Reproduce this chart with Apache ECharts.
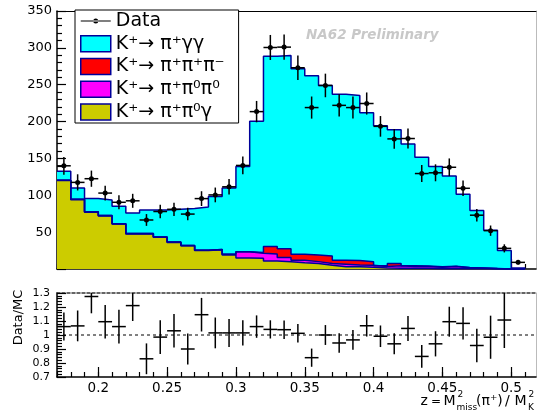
<!DOCTYPE html>
<html>
<head>
<meta charset="utf-8">
<script src="https://cdn.jsdelivr.net/npm/echarts@6/dist/echarts.min.js"></script>
<style>
  html, body { margin: 0; padding: 0; background: #fff; }
  #chart { width: 538px; height: 412px; }
</style>
</head>
<body>
<div id="chart"></div>
<script>
// bins of z = M2miss / M2K, width 0.01
const binWidth = 0.01
const binLow = [0.17, 0.18, 0.19, 0.2, 0.21, 0.22, 0.23, 0.24, 0.25, 0.26, 0.27, 0.28, 0.29, 0.3, 0.31, 0.32, 0.33,
  0.34, 0.35, 0.36, 0.37, 0.38, 0.39, 0.4, 0.41, 0.42, 0.43, 0.44, 0.45, 0.46, 0.47, 0.48, 0.49, 0.5]
const xTickLabels = [0.2, 0.25, 0.3, 0.35, 0.4, 0.45, 0.5]

// MC components (events per bin)
const pipigg = [12, 15.5, 18, 21, 23.5, 28, 32, 36.5, 44.5, 50, 58.5, 72, 90, 115.5, 178, 258, 262, 251.5, 243, 231.5,
  225, 224, 202, 190, 181.5, 165, 147.5, 136, 122.5, 99.5, 78, 52, 25, 1.5]
const pipipi = [0, 0, 0, 0, 0, 0, 0, 0, 0, 0, 0, 0, 0, 0, 1, 10, 12, 8, 9, 10, 5.5, 6, 5, 1, 3, 1, 0.6, 0.4, 0.3, 0.2,
  0.1, 0, 0, 0]
const pi0pi0 = [0.5, 0.5, 0.5, 0.5, 0.5, 0.5, 0.5, 0.5, 0.5, 0.5, 0.5, 0.5, 1, 8.5, 7, 9.5, 5.5, 3.5, 2.5, 2.5, 3.5,
  2.5, 2.5, 2, 3.5, 2.5, 2.5, 2, 3, 1.5, 1, 0.5, 0, 0]
const pi0gamma = [120, 94, 77, 72, 61, 47.5, 47.5, 43, 36, 31.5, 25, 26, 19, 15, 14.5, 11, 10, 8.5, 7.5, 5, 3, 3, 2.5,
  1.5, 1, 1, 1, 0.5, 0.5, 0.3, 0.2, 0.1, 0, 0]

// data
const dataCounts = [140, 117.5, 122.5, 103, 90.5, 92.5, 66.5, 78, 81, 74.5, 95.5, 100.5, 111.5, 140.5, 213.5, 300.5,
  301, 273, 219, 249, 222, 219, 224.5, 193.5, 176.5, 177, 129.5, 130.5, 138, 109.5, 73, 52, 28, 9]
const dataErrors = [12, 11, 11, 10, 9.5, 9.5, 8, 9, 9, 8.5, 10, 10, 10.5, 12, 14.5, 17, 17, 16.5, 15, 16, 15, 15, 15,
  14, 13.5, 13.5, 11.5, 11.5, 12, 10.5, 8.5, 7, 5.5, 3]

// Data/MC
const ratio = [1.06, 1.065, 1.275, 1.095, 1.06, 1.21, 0.83, 0.985, 1.03, 0.9, 1.145, 1.015, 1.015, 1.015, 1.06, 1.04,
  1.038, 1.012, 0.838, 1.0, 0.943, 0.965, 1.066, 0.991, 0.937, 1.047, 0.847, 0.937, 1.095, 1.083, 0.925, 0.984,
  1.107, null]
const ratioErrors = [0.1, 0.11, 0.12, 0.12, 0.12, 0.11, 0.11, 0.12, 0.12, 0.11, 0.12, 0.11, 0.1, 0.09, 0.08, 0.065,
  0.066, 0.066, 0.065, 0.071, 0.069, 0.071, 0.077, 0.077, 0.075, 0.089, 0.081, 0.09, 0.107, 0.115, 0.119, 0.154,
  0.2, 0]

const names = ['Data', 'K⁺→ π⁺γγ', 'K⁺→ π⁺π⁺π⁻', 'K⁺→ π⁺π⁰π⁰', 'K⁺→ π⁺π⁰γ']
const colors = ['#000000', '#00ffff', '#ff0000', '#ff00ff', '#cccc00']

const font = 'DejaVu Sans'
const xMin = 0.17
const xMax = 0.518
const binEdges = binLow.concat([binLow[binLow.length - 1] + binWidth])

const stackTops = (layers) => binLow.map((_, i) => layers.reduce((s, l) => s + l[i], 0))

const stepData = (tops) => {
  const pts = binLow.map((x, i) => [x, tops[i]])
  const end = binEdges[binEdges.length - 1]
  pts.push([end, tops[tops.length - 1]], [end, 0])
  return pts
}

const histSeries = (name, color, tops) => ({
  name,
  type: 'line',
  step: 'end',
  xAxisIndex: 0,
  yAxisIndex: 0,
  data: stepData(tops),
  symbol: 'none',
  color,
  lineStyle: { color: '#000099', width: 1.5 },
  areaStyle: { color, opacity: 1 },
  silent: true,
})

const renderCross = (withDot) => (params, api) => {
  const x = api.value(0)
  const y = api.value(1)
  const e = api.value(2)
  const l = api.coord([x - binWidth / 2, y])
  const r = api.coord([x + binWidth / 2, y])
  const t = api.coord([x, y + e])
  const b = api.coord([x, y - e])
  const style = { stroke: '#000', lineWidth: 1.5 }
  const children = [
    { type: 'line', shape: { x1: l[0], y1: l[1], x2: r[0], y2: r[1] }, style },
    { type: 'line', shape: { x1: t[0], y1: t[1], x2: b[0], y2: b[1] }, style },
  ]
  if (withDot) {
    children.push({ type: 'circle', shape: { cx: t[0], cy: l[1], r: 2.5 }, style: { fill: '#000' } })
  }
  return { type: 'group', children }
}

// short ticks on every bin edge, carries the axis line
const xMinorAxis = (gridIndex) => ({
  gridIndex,
  type: 'value',
  min: xMin,
  max: xMax,
  position: 'bottom',
  axisLine: { onZero: false, lineStyle: { color: '#000', width: 1.5 } },
  axisTick: { inside: true, length: 5, customValues: binEdges, lineStyle: { color: '#000', width: 1.2 } },
  axisLabel: { show: false },
  splitLine: { show: false },
})

// long ticks + labels at 0.05 steps
const xMajorAxis = (gridIndex, showLabel) => ({
  gridIndex,
  type: 'value',
  min: xMin,
  max: xMax,
  position: 'bottom',
  axisLine: { show: false, onZero: false },
  axisTick: { inside: true, length: 10, customValues: xTickLabels, lineStyle: { color: '#000', width: 1.2 } },
  axisLabel: {
    show: showLabel, customValues: xTickLabels, margin: 4,
    color: '#000', fontFamily: font, fontSize: 13.5,
  },
  splitLine: { show: false },
})

const frameAxis = (gridIndex, position, lineStyle, isY) => ({
  gridIndex,
  type: 'value',
  position,
  min: isY ? 0 : xMin,
  max: isY ? 1 : xMax,
  axisLine: { show: true, onZero: false, lineStyle },
  axisTick: { show: false },
  axisLabel: { show: false },
  splitLine: { show: false },
})

const chart = echarts.init(document.getElementById('chart'))

const option = {
  backgroundColor: '#fff',
  animation: false,
  grid: [
    { left: 57, top: 11, width: 479, height: 258 },
    { left: 57, top: 293, width: 479, height: 84 },
  ],
  legend: {
    left: 75,
    top: 10,
    orient: 'vertical',
    padding: [1, 14, 1, 5],
    itemGap: 2.75,
    itemWidth: 30,
    itemHeight: 16,
    backgroundColor: '#fff',
    borderColor: '#000',
    borderWidth: 1,
    selectedMode: false,
    textStyle: { color: '#000', fontFamily: font, fontSize: 19, lineHeight: 20 },
    data: [
      {
        name: names[0],
        icon: 'path://M0,2.4L30,2.4L30,3.6L0,3.6Z M12.5,3A2.5,2.5,0,1,0,17.5,3A2.5,2.5,0,1,0,12.5,3Z',
        itemStyle: { color: '#000', borderWidth: 0 },
      },
      ...names.slice(1).map((name, i) => ({
        name,
        icon: 'rect',
        itemStyle: { color: colors[i + 1], borderColor: '#000099', borderWidth: 1.5 },
      })),
    ],
  },
  xAxis: [
    xMinorAxis(0),
    xMajorAxis(0, false),
    frameAxis(0, 'top', { color: '#000', width: 1 }, false),
    xMinorAxis(1),
    xMajorAxis(1, true),
    frameAxis(1, 'top', { color: '#333', width: 1.5, type: [3, 2] }, false),
  ],
  yAxis: [
    {
      gridIndex: 0,
      type: 'value',
      min: 0,
      max: 350,
      interval: 50,
      axisLine: { onZero: false, lineStyle: { color: '#000', width: 1.5 } },
      axisTick: { inside: true, length: 9, lineStyle: { color: '#000', width: 1.2 } },
      minorTick: { show: true, splitNumber: 5, length: 5, lineStyle: { color: '#000', width: 1.2 } },
      axisLabel: { showMinLabel: false, margin: 5, color: '#000', fontFamily: font, fontSize: 13 },
      splitLine: { show: false },
    },
    frameAxis(0, 'right', { color: '#bbb', width: 1 }, true),
    {
      gridIndex: 1,
      type: 'value',
      min: 0.7,
      max: 1.3,
      interval: 0.1,
      axisLine: { onZero: false, lineStyle: { color: '#000', width: 1.5 } },
      axisTick: { inside: true, length: 9, lineStyle: { color: '#000', width: 1.2 } },
      minorTick: { show: true, splitNumber: 5, length: 5, lineStyle: { color: '#000', width: 1.2 } },
      axisLabel: { margin: 7, color: '#000', fontFamily: font, fontSize: 11 },
      splitLine: { show: false },
    },
    frameAxis(1, 'right', { color: '#bbb', width: 1 }, true),
  ],
  series: [
    histSeries(names[1], colors[1], stackTops([pi0gamma, pi0pi0, pipipi, pipigg])),
    histSeries(names[2], colors[2], stackTops([pi0gamma, pi0pi0, pipipi])),
    histSeries(names[3], colors[3], stackTops([pi0gamma, pi0pi0])),
    histSeries(names[4], colors[4], stackTops([pi0gamma])),
    {
      name: names[0],
      type: 'custom',
      xAxisIndex: 0,
      yAxisIndex: 0,
      clip: true,
      renderItem: renderCross(true),
      encode: { x: 0, y: 1 },
      data: binLow.map((x, i) => [x + binWidth / 2, dataCounts[i], dataErrors[i]]),
      z: 5,
    },
    {
      name: 'ratio',
      type: 'custom',
      xAxisIndex: 3,
      yAxisIndex: 2,
      clip: true,
      renderItem: renderCross(false),
      encode: { x: 0, y: 1 },
      data: binLow.map((x, i) => [x + binWidth / 2, ratio[i], ratioErrors[i]]).filter((d) => d[1] !== null),
      z: 5,
    },
    {
      name: 'unity',
      type: 'line',
      xAxisIndex: 3,
      yAxisIndex: 2,
      symbol: 'none',
      silent: true,
      data: [[xMin, 1], [xMax, 1]],
      lineStyle: { color: '#000', width: 1, type: [3, 3] },
    },
  ],
  graphic: [
    {
      type: 'text', left: 306, top: 28,
      style: { text: 'NA62 Preliminary', fill: '#c8c8c8', font: 'italic bold 13.5px "DejaVu Sans"' },
    },
    {
      type: 'text', x: 18.5, y: 317.5, rotation: Math.PI / 2,
      style: { text: 'Data/MC', fill: '#000', font: '13px "DejaVu Sans"', align: 'center', verticalAlign: 'middle' },
    },
    // axis title z = M2miss(pi+) / M2K, pieces placed like the TLatex original
    ...[
      ['z', 420.5, 401.5, 14], ['=', 431, 401.5, 12], ['M', 443.5, 401.5, 14], ['2', 457.5, 395, 9],
      ['miss', 456.5, 407.5, 9], ['(π⁺)', 476, 401.5, 14], ['/', 505, 401.5, 14], ['M', 514.5, 401.5, 14],
      ['2', 528.5, 395, 9], ['K', 528, 407.5, 9],
    ].map(([text, x, y, size]) => ({
      type: 'text', x, y,
      style: { text, fill: '#000', font: size + 'px "DejaVu Sans"', align: 'left', verticalAlign: 'middle' },
    })),
  ],
}

chart.setOption(option)
</script>
</body>
</html>
